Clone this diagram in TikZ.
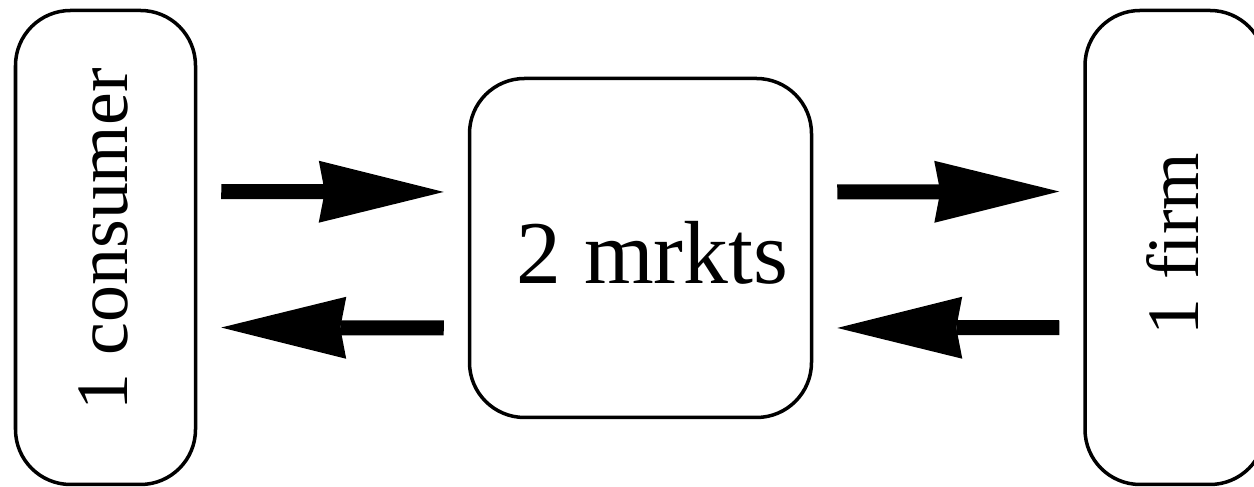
\documentclass[tikz,border=0pt]{standalone}
\usepackage{fontspec}
\setmainfont{Liberation Serif}
\usetikzlibrary{arrows.meta}

\begin{document}
\begin{tikzpicture}[
		agent/.style={draw, line width=0.07cm, rounded corners=1.1cm, inner sep=0pt,
			minimum width=3.6cm, minimum height=9.48cm},
		market/.style={draw, line width=0.07cm, rounded corners=1.1cm, inner sep=0pt,
			minimum width=6.84cm, minimum height=6.78cm},
		side/.style={rotate=90, inner sep=0pt, font=\fontsize{42}{50}\selectfont},
		flow/.style={line width=0.3cm, shorten <=0.48cm, shorten >=0.48cm,
			-{Stealth[length=2.5cm, width=1.24cm, inset=0.12cm, line width=0pt]}}]
		\useasboundingbox (0,0) rectangle (25.08,9.74);
		
		\node[agent] (cons) at (2.11,4.79) {};
		\node[market] (mkt) at (12.81,4.78) {};
		\node[agent] (firm) at (23.50,4.79) {};
		
		\node[side] (consname) at (2.06,4.95) {1 consumer};
		\node[side] (firmname) at (23.45,4.86) {1 firm};
		\node[inner sep=0pt, font=\fontsize{51}{60}\selectfont] (mktname) at (13.05,4.68) {2 mrkts};
		
		\draw[flow] ([yshift=1.12cm]cons.east) -- ([yshift=1.12cm]mkt.west);
		\draw[flow] ([yshift=-1.60cm]mkt.west) -- ([yshift=-1.60cm]cons.east);
		\draw[flow] ([yshift=1.12cm]mkt.east) -- ([yshift=1.12cm]firm.west);
		\draw[flow] ([yshift=-1.60cm]firm.west) -- ([yshift=-1.60cm]mkt.east);
	\end{tikzpicture}
\end{document}
